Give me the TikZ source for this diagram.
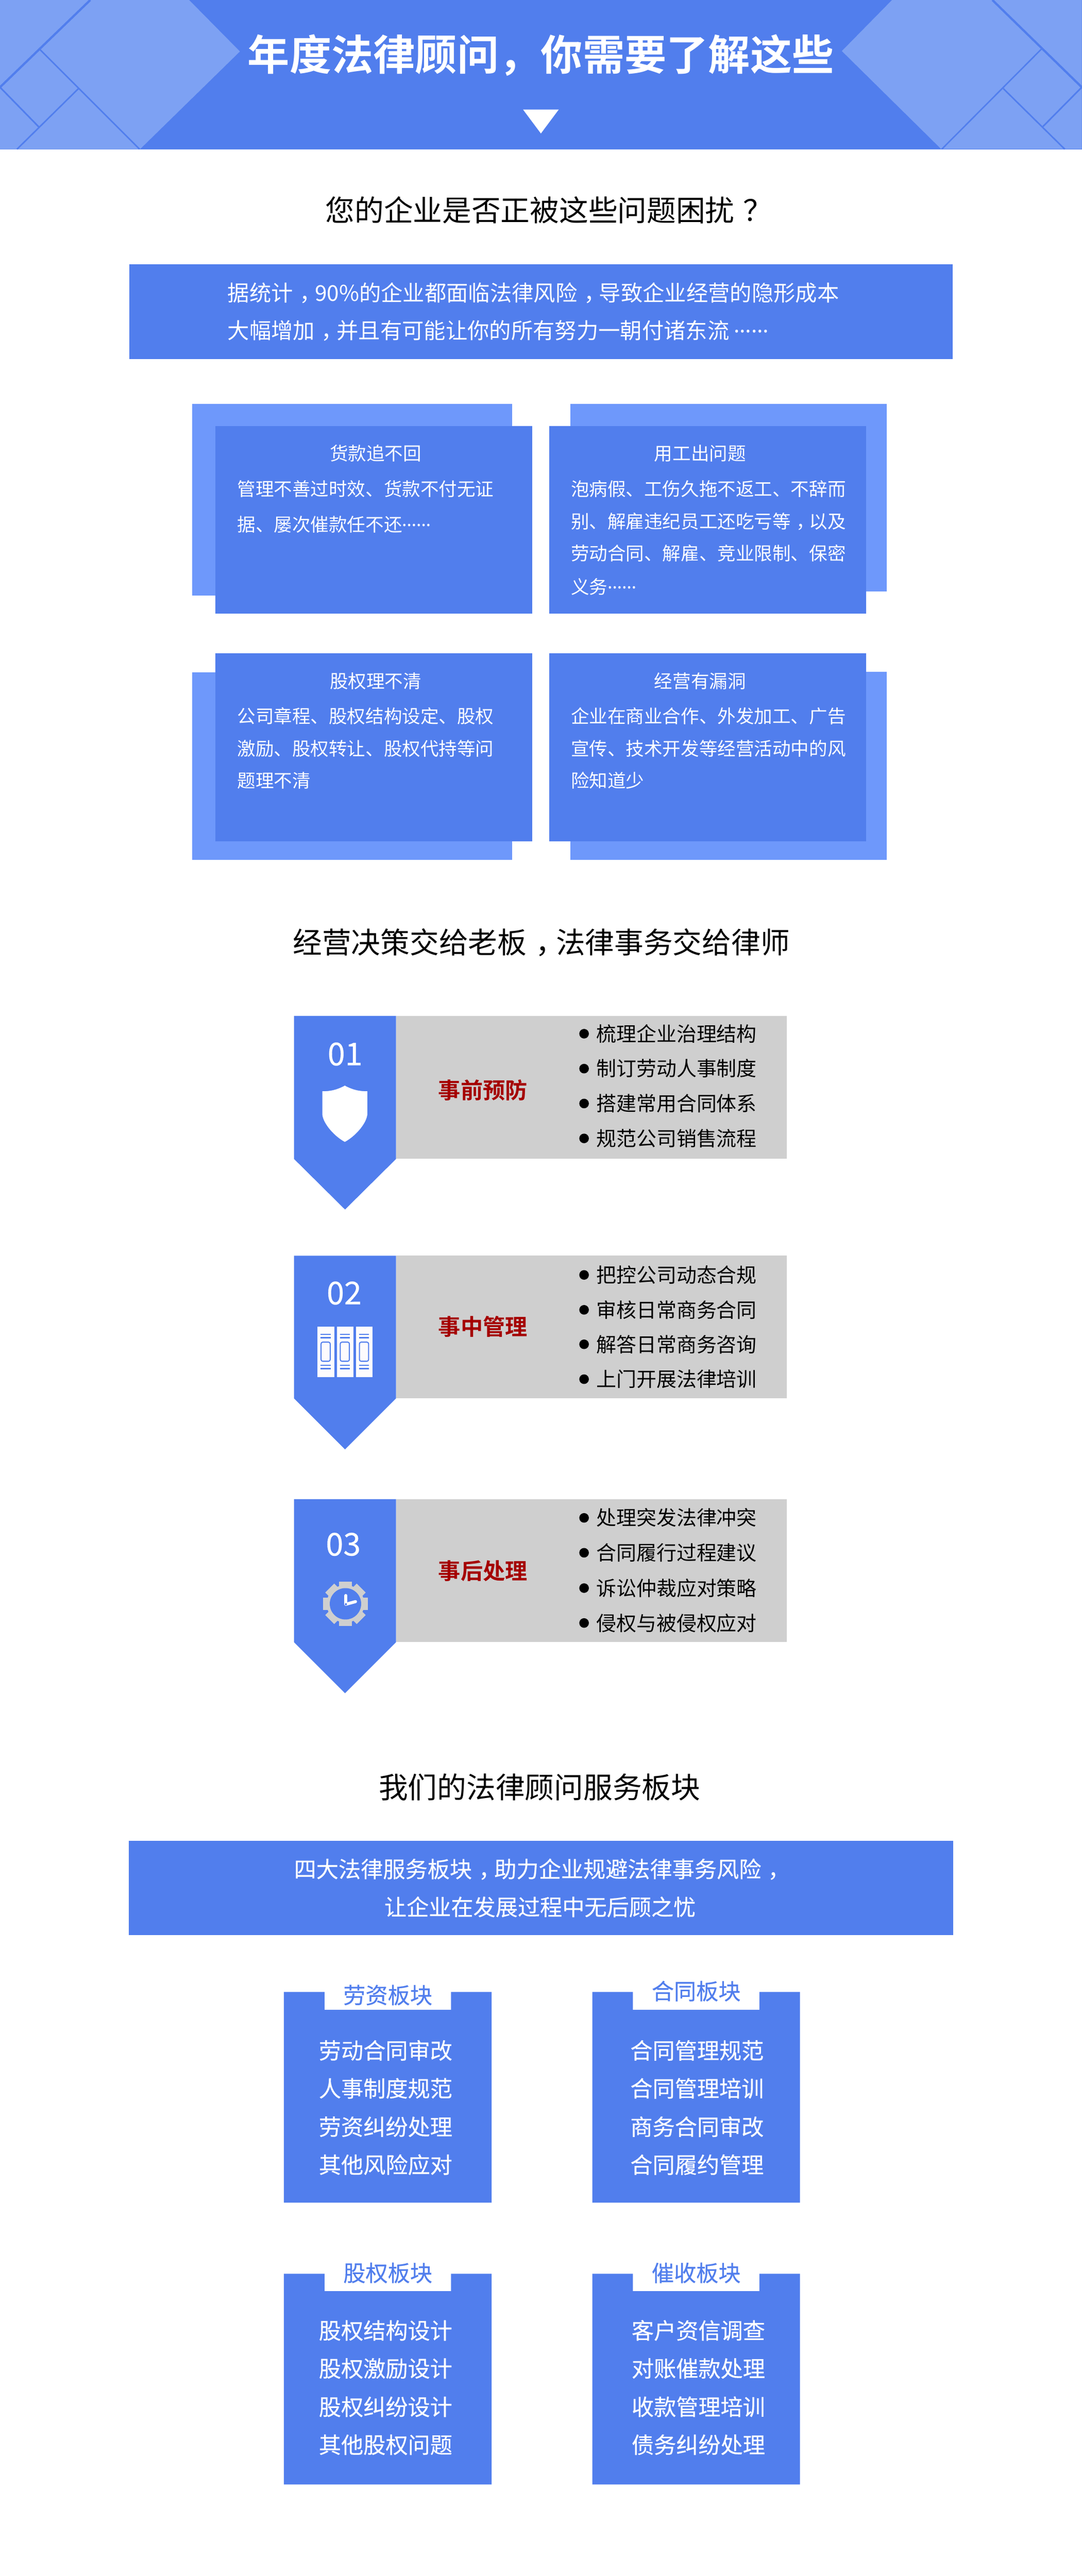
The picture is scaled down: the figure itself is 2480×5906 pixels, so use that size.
\documentclass[tikz,border=0pt]{standalone}
\usepackage{fontspec}
\setmainfont{Noto Sans CJK SC}[BoldFont={Noto Sans CJK SC Bold}]
\newfontfamily\latinfont{Noto Sans}
\newfontfamily\medfont{Noto Sans CJK SC}[FakeBold=0.35]
\definecolor{mainblue}{HTML}{517EED}
\definecolor{lightblue}{HTML}{7DA1F3}
\definecolor{backblue}{HTML}{6E98FB}
\definecolor{panelgray}{HTML}{CFCFCF}
\definecolor{darkred}{HTML}{A50000}
\definecolor{bookwhite}{HTML}{FDFBFD}
\newcommand{\ellip}{\raisebox{0.28em}{\latinfont ……}}
\newcommand{\cpunct}[1]{\kern0.3em #1\kern-0.3em }
\tikzset{
  fs/.style={font=\fontsize{#1}{#1}\selectfont, text height=0.88*#1, text depth=0.12*#1, inner sep=0pt, outer sep=0pt},
  wt/.style={text=white},
  facet/.style={mainblue, line cap=butt},
  dotm/.style={circle, fill=black, minimum size=22pt, inner sep=0pt},
  tick/.style={mainblue, line width=3pt},
}
\begin{document}
\begin{tikzpicture}[x=1pt,y=-1pt]
\useasboundingbox (0,0) rectangle (2480,5906);
\fill[white] (0,0) rectangle (2480,5906);
% header
\fill[mainblue] (0,0) rectangle (2480,342);
\fill[lightblue] (0,0) -- (433.5,0) -- (550,118) -- (321,342) -- (0,342) -- cycle;
\fill[lightblue] (2480,0) -- (2045,0) -- (1930,117) -- (2158,342) -- (2480,342) -- cycle;
\draw[facet, line width=5pt] (207,0) -- (0,200);
\draw[facet, line width=3.2pt] (91,113) -- (320,342);
\draw[facet, line width=3.6pt] (0,200) -- (89,291);
\draw[facet, line width=3.4pt] (180,203) -- (39,342);
\draw[facet, line width=5pt] (2275,0) -- (2480,200);
\draw[facet, line width=3.2pt] (2388,112) -- (2159,342);
\draw[facet, line width=3.4pt] (2300,203) -- (2441,342);
\draw[facet, line width=3.6pt] (2480,200) -- (2391,290);
\draw[mainblue, line width=1pt] (2158,341.5) -- (2480,341.5);
\node[fs=96, wt, font=\fontsize{96}{96}\selectfont\bfseries] (title) at (1240,125) {年度法律顾问，你需要了解这些};
\fill[white] (1199,251) -- (1281,251) -- (1240,306) -- cycle;
% section 1
\node[fs=67, anchor=west] (sec1) at (746,482) {您的企业是否正被这些问题困扰\cpunct{？}};
\fill[mainblue] (296,606) rectangle (2184,823);
\node[fs=50, wt, anchor=west] (intro1) at (522,671) {据统计\cpunct{，}90\%的企业都面临法律风险\cpunct{，}导致企业经营的隐形成本};
\node[fs=50, wt, anchor=west] (intro2) at (522,758) {大幅增加\cpunct{，}并且有可能让你的所有努力一朝付诸东流 \ellip};
% problem cards
\fill[backblue] (440,926) rectangle (1174,1366);
\fill[backblue] (1308,926) rectangle (2033,1356);
\fill[backblue] (440,1541) rectangle (1174,1971);
\fill[backblue] (1308,1540) rectangle (2033,1971);
\fill[mainblue] (494,977) rectangle (1220,1407);
\fill[mainblue] (1259,977) rectangle (1986,1407);
\fill[mainblue] (494,1498) rectangle (1220,1929);
\fill[mainblue] (1259,1498) rectangle (1986,1929);
\node[fs=42, wt] (c1t) at (861,1040) {货款追不回};
\node[fs=42, wt, anchor=west] (c1a) at (544,1121) {管理不善过时效、货款不付无证};
\node[fs=42, wt, anchor=west] (c1b) at (544,1202) {据、屡次催款任不还\ellip};
\node[fs=42, wt] (c2t) at (1605,1040) {用工出问题};
\node[fs=42, wt, anchor=west] (c2a) at (1309,1121) {泡病假、工伤久拖不返工、不辞而};
\node[fs=42, wt, anchor=west] (c2b) at (1309,1195) {别、解雇违纪员工还吃亏等\cpunct{，}以及};
\node[fs=42, wt, anchor=west] (c2c) at (1309,1268) {劳动合同、解雇、竞业限制、保密};
\node[fs=42, wt, anchor=west] (c2d) at (1309,1345) {义务\ellip};
\node[fs=42, wt] (c3t) at (861,1561) {股权理不清};
\node[fs=42, wt, anchor=west] (c3a) at (544,1642) {公司章程、股权结构设定、股权};
\node[fs=42, wt, anchor=west] (c3b) at (544,1716) {激励、股权转让、股权代持等问};
\node[fs=42, wt, anchor=west] (c3c) at (544,1789) {题理不清};
\node[fs=42, wt] (c4t) at (1605,1561) {经营有漏洞};
\node[fs=42, wt, anchor=west] (c4a) at (1309,1642) {企业在商业合作、外发加工、广告};
\node[fs=42, wt, anchor=west] (c4b) at (1309,1716) {宣传、技术开发等经营活动中的风};
\node[fs=42, wt, anchor=west] (c4c) at (1309,1789) {险知道少};
% section 2
\node[fs=67] (sec2) at (1241,2160) {经营决策交给老板\cpunct{，}法律事务交给律师};
% step 1
\fill[panelgray] (908,2329) rectangle (1804,2657);
\fill[mainblue] (674,2329) -- (908,2329) -- (908,2657) -- (791,2773) -- (674,2657) -- cycle;
\node[fs=72, wt, font=\fontsize{72}{72}\selectfont\medfont] (n1) at (791,2415) {01};
\fill[white] (790.5,2489) .. controls (772,2499) and (757,2502) .. (739,2502) -- (739,2556) .. controls (742,2578) and (768,2606) .. (790.5,2618) .. controls (813,2606) and (839,2578) .. (842,2556) -- (842,2502) .. controls (824,2502) and (809,2499) .. (790.5,2489) -- cycle;
\node[fs=51, text=darkred, font=\fontsize{51}{51}\selectfont\bfseries] (s1) at (1107,2499) {事前预防};
\node[dotm] (d11) at (1339,2370) {}; \node[fs=46, anchor=west] (t11) at (1367,2370) {梳理企业治理结构};
\node[dotm] (d12) at (1339,2450) {}; \node[fs=46, anchor=west] (t12) at (1367,2450) {制订劳动人事制度};
\node[dotm] (d13) at (1339,2530) {}; \node[fs=46, anchor=west] (t13) at (1367,2530) {搭建常用合同体系};
\node[dotm] (d14) at (1339,2610) {}; \node[fs=46, anchor=west] (t14) at (1367,2610) {规范公司销售流程};
% step 2
\fill[panelgray] (908,2879) rectangle (1804,3206);
\fill[mainblue] (674,2879) -- (908,2879) -- (908,3206) -- (791,3323) -- (674,3206) -- cycle;
\node[fs=72, wt, font=\fontsize{72}{72}\selectfont\medfont] (n2) at (789,2963) {02};
\foreach \bx in {728,772,816}{
  \fill[bookwhite] (\bx,3042) rectangle ++(38,115);
  \foreach \by in {3059,3067,3130,3138}{
    \draw[tick] (\bx+7,\by) -- ++(23,0);
  }
  \draw[mainblue, line width=2.4pt, rounded corners=4pt] (\bx+8,3077) rectangle (\bx+29,3121);
}
\node[fs=51, text=darkred, font=\fontsize{51}{51}\selectfont\bfseries] (s2) at (1107,3042) {事中管理};
\node[dotm] (d21) at (1339,2923) {}; \node[fs=46, anchor=west] (t21) at (1367,2923) {把控公司动态合规};
\node[dotm] (d22) at (1339,3003) {}; \node[fs=46, anchor=west] (t22) at (1367,3003) {审核日常商务合同};
\node[dotm] (d23) at (1339,3082) {}; \node[fs=46, anchor=west] (t23) at (1367,3082) {解答日常商务咨询};
\node[dotm] (d24) at (1339,3162) {}; \node[fs=46, anchor=west] (t24) at (1367,3162) {上门开展法律培训};
% step 3
\fill[panelgray] (908,3437) rectangle (1804,3765);
\fill[mainblue] (674,3437) -- (908,3437) -- (908,3765) -- (791,3882) -- (674,3765) -- cycle;
\node[fs=72, wt, font=\fontsize{72}{72}\selectfont\medfont] (n3) at (787,3539) {03};
\foreach \ang in {0,45,...,315}{
  \fill[panelgray, shift={(792,3677)}, rotate=\ang] (-14.5,-51) rectangle (14.5,0);
}
\fill[panelgray] (792,3677) circle[radius=43];
\fill[mainblue] (792,3677) circle[radius=36];
\draw[bookwhite, line width=7pt, line cap=round] (793,3678) -- (793,3658);
\draw[bookwhite, line width=7pt, line cap=round] (793,3678) -- (815,3672);
\fill[mainblue] (793,3678) circle[radius=2.5];
\node[fs=51, text=darkred, font=\fontsize{51}{51}\selectfont\bfseries] (s3) at (1107,3602) {事后处理};
\node[dotm] (d31) at (1339,3480) {}; \node[fs=46, anchor=west] (t31) at (1367,3480) {处理突发法律冲突};
\node[dotm] (d32) at (1339,3560) {}; \node[fs=46, anchor=west] (t32) at (1367,3560) {合同履行过程建议};
\node[dotm] (d33) at (1339,3641) {}; \node[fs=46, anchor=west] (t33) at (1367,3641) {诉讼仲裁应对策略};
\node[dotm] (d34) at (1339,3721) {}; \node[fs=46, anchor=west] (t34) at (1367,3721) {侵权与被侵权应对};
% section 3
\node[fs=67] (sec3) at (1237,4097) {我们的法律顾问服务板块};
\fill[mainblue] (295,4220) rectangle (2185,4437);
\node[fs=51, wt, font=\fontsize{51}{51}\selectfont\medfont] (b1) at (1235,4285) {四大法律服务板块\cpunct{，}助力企业规避法律事务风险\cpunct{，}};
\node[fs=51, wt, font=\fontsize{51}{51}\selectfont\medfont] (b2) at (1238,4372) {让企业在发展过程中无后顾之忧};
% service boxes
\fill[mainblue] (651,4567) -- (744,4567) -- (744,4608) -- (1034,4608) -- (1034,4567) -- (1127,4567) -- (1127,5050) -- (651,5050) -- cycle;
\fill[mainblue] (1358,4567) -- (1451,4567) -- (1451,4608) -- (1741,4608) -- (1741,4567) -- (1834,4567) -- (1834,5050) -- (1358,5050) -- cycle;
\fill[mainblue] (651,5213) -- (744,5213) -- (744,5253) -- (1034,5253) -- (1034,5213) -- (1127,5213) -- (1127,5696) -- (651,5696) -- cycle;
\fill[mainblue] (1358,5213) -- (1451,5213) -- (1451,5253) -- (1741,5253) -- (1741,5213) -- (1834,5213) -- (1834,5696) -- (1358,5696) -- cycle;
\node[fs=51, text=mainblue, font=\fontsize{51}{51}\selectfont\medfont] (h1) at (889,4574) {劳资板块};
\node[fs=51, text=mainblue, font=\fontsize{51}{51}\selectfont\medfont] (h2) at (1596,4565) {合同板块};
\node[fs=51, text=mainblue, font=\fontsize{51}{51}\selectfont\medfont] (h3) at (889,5211) {股权板块};
\node[fs=51, text=mainblue, font=\fontsize{51}{51}\selectfont\medfont] (h4) at (1596,5211) {催收板块};
\foreach \nm/\x/\y/\tx in {
  a1/884/4701/劳动合同审改, a2/884/4788/人事制度规范, a3/884/4876/劳资纠纷处理, a4/884/4963/其他风险应对,
  b5/1598/4701/合同管理规范, b6/1598/4788/合同管理培训, b7/1598/4876/商务合同审改, b8/1598/4963/合同履约管理,
  e1/884/5343/股权结构设计, e2/884/5430/股权激励设计, e3/884/5518/股权纠纷设计, e4/884/5605/其他股权问题,
  f1/1601/5343/客户资信调查, f2/1601/5430/对账催款处理, f3/1601/5518/收款管理培训, f4/1601/5605/债务纠纷处理}{
  \node[fs=51, wt, font=\fontsize{51}{51}\selectfont\medfont] (\nm) at (\x,\y) {\tx};
}
\end{tikzpicture}
\end{document}
